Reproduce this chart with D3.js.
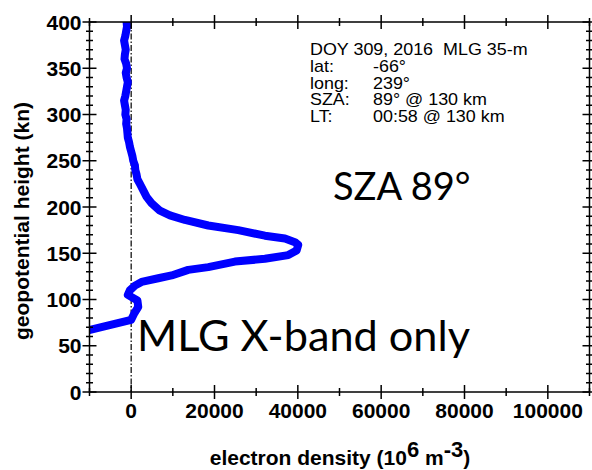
<!DOCTYPE html>
<html lang="en">
<head>
  <meta charset="UTF-8">
  <title>Electron density profile</title>
  <script src="https://d3js.org/d3.v7.min.js"></script>
  <style>
    body { margin: 0; background: #fff; font-family: Arial, "Liberation Sans", sans-serif; }
    svg { display: block; }
    .tick-label { font-weight: bold; font-size: 21px; }
    .axis-title { font-weight: bold; font-size: 21px; }
    .info { font-size: 16px; white-space: pre; }
    .big { font-family: Lato, "Open Sans", sans-serif; }
  </style>
</head>
<body>
  <svg id="chart" width="592" height="470"></svg>
  <script>
    // profile: height (km) and density (10^6 m^-3)
    const heights = [400, 395, 390, 385, 380, 375, 370, 365, 360, 355, 350, 345, 340, 335, 330,
      325, 320, 315, 310, 305, 300, 295, 290, 285, 280, 275, 270, 265, 260, 255, 250, 245, 240,
      235, 230, 225, 218, 211, 204, 196, 191, 186, 180, 175, 169, 166, 162, 159, 153, 148, 144,
      141, 135, 132, 126, 123, 119, 115, 110, 105, 99, 92, 85, 78, 62];
    const density = [-1100, -1000, -1200, -1400, -1700, -1500, -1300, -1500, -1600, -1200, -1000,
      -1300, -1100, -800, -1000, -1200, -1400, -1700, -1500, -1300, -1400, -1100, -1200, -1000,
      -900, -800, -500, -300, 0, 300, 500, 900, 1000, 1300, 1500, 2100, 2900, 3700, 4900, 6900,
      9300, 12900, 18500, 25700, 32100, 36900, 39300, 40100, 39700, 37700, 32100, 24900, 18500,
      13700, 9700, 6500, 2500, 900, -300, -800, 1500, 1700, 750, 0, -14500];

    const xTicks = [0, 20000, 40000, 60000, 80000, 100000];
    const yTicks = [0, 50, 100, 150, 200, 250, 300, 350, 400];
    const infoLabels = ["lat:", "long:", "SZA:", "LT:"];
    const infoValues = ["-66°", "239°", "89° @ 130 km", "00:58 @ 130 km"];

    const margin = { top: 22, right: 2, bottom: 78, left: 89.5 };
    const width = 592 - margin.left - margin.right;
    const height = 470 - margin.top - margin.bottom;

    const svg = d3.select("#chart");
    const g = svg.append("g").attr("transform", `translate(${margin.left},${margin.top})`);

    const x = d3.scaleLinear().domain([-10000, 110000]).range([0, width - 0.5]);
    const y = d3.scaleLinear().domain([0, 400]).range([height, 0]);
    const W = x.range()[1];

    g.append("clipPath").attr("id", "clip")
      .append("rect").attr("width", W).attr("height", height);

    // dash-dot zero line
    g.append("line")
      .attr("x1", x(0)).attr("x2", x(0))
      .attr("y1", 0).attr("y2", height)
      .attr("stroke", "#000").attr("stroke-width", 1.2)
      .attr("stroke-dasharray", "6,2,1.5,2");

    // profile
    const pts = heights.map((h, i) => ({ h: h, v: density[i] }));
    const line = d3.line().x(d => x(d.v)).y(d => y(d.h));
    g.append("path")
      .datum(pts)
      .attr("clip-path", "url(#clip)")
      .attr("d", line)
      .attr("fill", "none")
      .attr("stroke", "#0000ff")
      .attr("stroke-width", 8)
      .attr("stroke-linejoin", "round")
      .attr("stroke-linecap", "round");

    // frame with crossing ticks
    const xMinor = d3.range(-10000, 110001, 10000);
    const yMinor = d3.range(0, 401, 10);
    const frame = g.append("g").attr("stroke", "#000").attr("stroke-width", 1.5);
    frame.append("rect").attr("width", W).attr("height", height).attr("fill", "none");

    function xTick(v) { return v % 20000 === 0 ? 7 : 4; }
    function yTick(v) { return v % 50 === 0 ? 7 : 3.5; }

    [0, height].forEach(yy => {
      frame.selectAll(null).data(xMinor).enter().append("line")
        .attr("x1", d => x(d)).attr("x2", d => x(d))
        .attr("y1", d => yy - xTick(d)).attr("y2", d => yy + xTick(d));
    });
    [0, W].forEach(xx => {
      frame.selectAll(null).data(yMinor).enter().append("line")
        .attr("y1", d => y(d)).attr("y2", d => y(d))
        .attr("x1", d => xx - yTick(d)).attr("x2", d => xx + yTick(d));
    });

    // tick labels
    g.selectAll(".xl").data(xTicks).enter().append("text")
      .attr("class", "tick-label")
      .attr("x", d => x(d)).attr("y", height + 26)
      .attr("text-anchor", "middle")
      .text(d => d);
    g.selectAll(".yl").data(yTicks).enter().append("text")
      .attr("class", "tick-label")
      .attr("x", -8).attr("y", d => y(d) + 7.5)
      .attr("text-anchor", "end")
      .text(d => d);

    // axis titles
    const xt = svg.append("text").attr("class", "axis-title")
      .attr("x", 340).attr("y", 465).attr("text-anchor", "middle");
    xt.append("tspan").text("electron density (10");
    xt.append("tspan").attr("dy", -8).style("font-size", "22px").text("6");
    xt.append("tspan").attr("dy", 8).text(" m");
    xt.append("tspan").attr("dy", -8).style("font-size", "22px").text("-3");
    xt.append("tspan").attr("dy", 8).text(")");

    svg.append("text").attr("class", "axis-title")
      .attr("transform", "translate(29,221) rotate(-90)")
      .attr("text-anchor", "middle")
      .text("geopotential height (kn)");

    // info block, stretched horizontally like the source image
    const sx = 1.12;
    const info = svg.append("g").attr("transform", `translate(310,0) scale(${sx},1)`);
    info.append("text").attr("class", "info").attr("x", 0).attr("y", 55)
      .text("DOY 309, 2016  MLG 35-m");
    infoLabels.forEach((t, i) => {
      info.append("text").attr("class", "info").attr("x", 0).attr("y", 72 + i * 16.7).text(t);
      info.append("text").attr("class", "info").attr("x", 63 / sx).attr("y", 72 + i * 16.7)
        .text(infoValues[i]);
    });

    svg.append("text").attr("class", "big").attr("x", 333).attr("y", 200)
      .style("font-size", "38px").text("SZA 89°");
    svg.append("text").attr("class", "big").attr("x", 137).attr("y", 351)
      .style("font-size", "42px")
      .attr("textLength", 333).attr("lengthAdjust", "spacingAndGlyphs")
      .text("MLG X-band only");
  </script>
</body>
</html>
